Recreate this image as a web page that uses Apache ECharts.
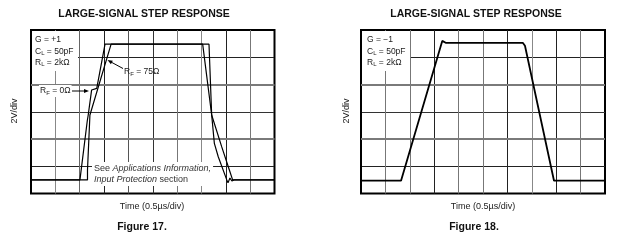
<!DOCTYPE html>
<html><head><meta charset="utf-8">
<script src="https://cdn.jsdelivr.net/npm/echarts@6/dist/echarts.min.js"></script>
<style>html,body{margin:0;padding:0;background:#fff}#c{width:620px;height:242px}</style>
</head><body><div id="c"></div>
<script>
// Figure 17: G = +1, two traces (RF = 0Ω and RF = 75Ω), x in divisions (0.5µs/div), y in divisions (2V/div)
const fig17RfZero = [[0,0.5],[2.01,0.5],[2.31,2.66],[2.35,2.88],[2.49,3.80],[2.70,3.86],[3.04,5.48],[7.05,5.48],[7.42,2.88],[7.53,1.84],[7.69,1.35],[8.04,0.5],[8.09,0.39],[8.17,0.57],[8.25,0.46],[8.34,0.5],[10,0.5]];
const fig17Rf75 = [[0,0.5],[2.32,0.5],[2.32,0.86],[2.42,2.88],[3.29,5.48],[7.31,5.48],[7.42,2.88],[7.83,1.72],[8.17,0.80],[8.28,0.5],[10,0.5]];
// Figure 18: G = -1
const fig18Trace = [[0,0.47],[1.64,0.47],[3.33,5.60],[3.47,5.53],[6.63,5.53],[6.72,5.42],[7.91,0.47],[10,0.47]];
const thickGridLevels = [2, 4];

const FONT = '"Liberation Sans", Arial, sans-serif';
const chart = echarts.init(document.getElementById('c'), null, {renderer:'canvas'});

const vColsL = ['#000','#888','#666','#222','#555','#333','#777','#888','#222','#777','#000'];
const vColsR = ['#000','#777','#777','#222','#777','#777','#222','#888','#222','#777','#000'];
const hCols = ['#000','#222','#fff','#333','#fff','#222','#000'];

function xAx(i, cols){
  return {type:'value', gridIndex:i, min:0, max:10, interval:1,
    axisLine:{show:false}, axisTick:{show:false}, axisLabel:{show:false},
    splitLine:{show:true, lineStyle:{color:cols, width:1}}};
}
function yAx(i){
  return {type:'value', gridIndex:i, min:0, max:6, interval:1,
    axisLine:{show:false}, axisTick:{show:false}, axisLabel:{show:false},
    splitLine:{show:true, lineStyle:{color:hCols, width:1}}};
}
function thickLines(){
  return {silent:true, symbol:'none', label:{show:false},
    lineStyle:{color:'#7a7a7a', width:2, type:'solid'},
    data: thickGridLevels.map(v=>({yAxis:v}))};
}

const legendRich = {sub:{fontSize:6, fontFamily:FONT, fill:'#222', padding:[4,0,0,0]}};

chart.setOption({
  animation:false,
  backgroundColor:'#fff',
  grid:[
    {left:31, top:30, width:243.5, height:163.5, show:true, borderColor:'#000', borderWidth:2, backgroundColor:'transparent'},
    {left:361, top:30, width:244, height:163.5, show:true, borderColor:'#000', borderWidth:2, backgroundColor:'transparent'}
  ],
  xAxis:[xAx(0,vColsL), xAx(1,vColsR)],
  yAxis:[yAx(0), yAx(1)],
  series:[
    {type:'line', xAxisIndex:0, yAxisIndex:0, data:fig17RfZero, symbol:'none', z:5,
      lineStyle:{color:'#000', width:1.2}, markLine:thickLines()},
    {type:'line', xAxisIndex:0, yAxisIndex:0, data:fig17Rf75, symbol:'none', z:5,
      lineStyle:{color:'#000', width:1.2}},
    {type:'line', xAxisIndex:1, yAxisIndex:1, data:fig18Trace, symbol:'none', z:5,
      lineStyle:{color:'#000', width:1.8}, markLine:thickLines()}
  ],
  graphic:[
    // titles
    {type:'text', z:60, x:144, y:14, style:{text:'LARGE-SIGNAL STEP RESPONSE', font:'bold 10.5px '+FONT, fill:'#111', align:'center', verticalAlign:'middle'}},
    {type:'text', z:60, x:476, y:14, style:{text:'LARGE-SIGNAL STEP RESPONSE', font:'bold 10.5px '+FONT, fill:'#111', align:'center', verticalAlign:'middle'}},
    // y axis names
    {type:'text', z:60, x:15, y:111, rotation:Math.PI/2, style:{text:'2V/div', font:'9px '+FONT, fill:'#222', align:'center', verticalAlign:'middle'}},
    {type:'text', z:60, x:347, y:111, rotation:Math.PI/2, style:{text:'2V/div', font:'9px '+FONT, fill:'#222', align:'center', verticalAlign:'middle'}},
    // x axis names
    {type:'text', z:60, x:152, y:207, style:{text:'Time (0.5µs/div)', font:'9px '+FONT, fill:'#222', align:'center', verticalAlign:'middle'}},
    {type:'text', z:60, x:483, y:207, style:{text:'Time (0.5µs/div)', font:'9px '+FONT, fill:'#222', align:'center', verticalAlign:'middle'}},
    // figure captions
    {type:'text', z:60, x:142, y:227, style:{text:'Figure 17.', font:'bold 10.5px '+FONT, fill:'#111', align:'center', verticalAlign:'middle'}},
    {type:'text', z:60, x:474, y:227, style:{text:'Figure 18.', font:'bold 10.5px '+FONT, fill:'#111', align:'center', verticalAlign:'middle'}},
    // legend boxes
    {type:'rect', z:55, shape:{x:32, y:31, width:46, height:40}, style:{fill:'#fff'}},
    {type:'rect', z:55, shape:{x:362, y:31, width:48, height:40}, style:{fill:'#fff'}},
    {type:'text', z:60, x:35, y:34, style:{text:'G = +1\nC{sub|L} = 50pF\nR{sub|L} = 2kΩ', rich:legendRich, font:'8.5px '+FONT, fill:'#222', lineHeight:11.5}},
    {type:'text', z:60, x:367, y:34, style:{text:'G = −1\nC{sub|L} = 50pF\nR{sub|L} = 2kΩ', rich:legendRich, font:'8.5px '+FONT, fill:'#222', lineHeight:11.5}},
    // RF = 0Ω annotation
    {type:'text', z:60, x:39, y:91, style:{text:'R{sub|F} = 0Ω', rich:legendRich, font:'8.5px '+FONT, fill:'#222', verticalAlign:'middle', backgroundColor:'#fff', padding:[1,1,1,1]}},
    {type:'line', z:60, shape:{x1:72, y1:91, x2:85, y2:91}, style:{stroke:'#000', lineWidth:1}},
    {type:'polygon', z:60, shape:{points:[[89,91],[84,89],[84,93]]}, style:{fill:'#000'}},
    // RF = 75Ω annotation
    {type:'text', z:60, x:124, y:72, style:{text:'R{sub|F} = 75Ω', rich:legendRich, font:'8.5px '+FONT, fill:'#222', verticalAlign:'middle'}},
    {type:'line', z:60, shape:{x1:123, y1:68.5, x2:111, y2:62}, style:{stroke:'#000', lineWidth:1}},
    {type:'polygon', z:60, shape:{points:[[107.5,60],[112.8,60.7],[110.9,64.2]]}, style:{fill:'#000'}},
    // applications note
    {type:'text', z:60, x:92, y:162, style:{text:'See {i|Applications Information,}\n{i|Input Protection} section',
      rich:{i:{fontStyle:'italic', fontSize:9, fontFamily:FONT, fill:'#333'}},
      font:'9px '+FONT, fill:'#333', lineHeight:11, backgroundColor:'#fff', padding:[1,2,1,2]}}
  ]
});
</script></body></html>
